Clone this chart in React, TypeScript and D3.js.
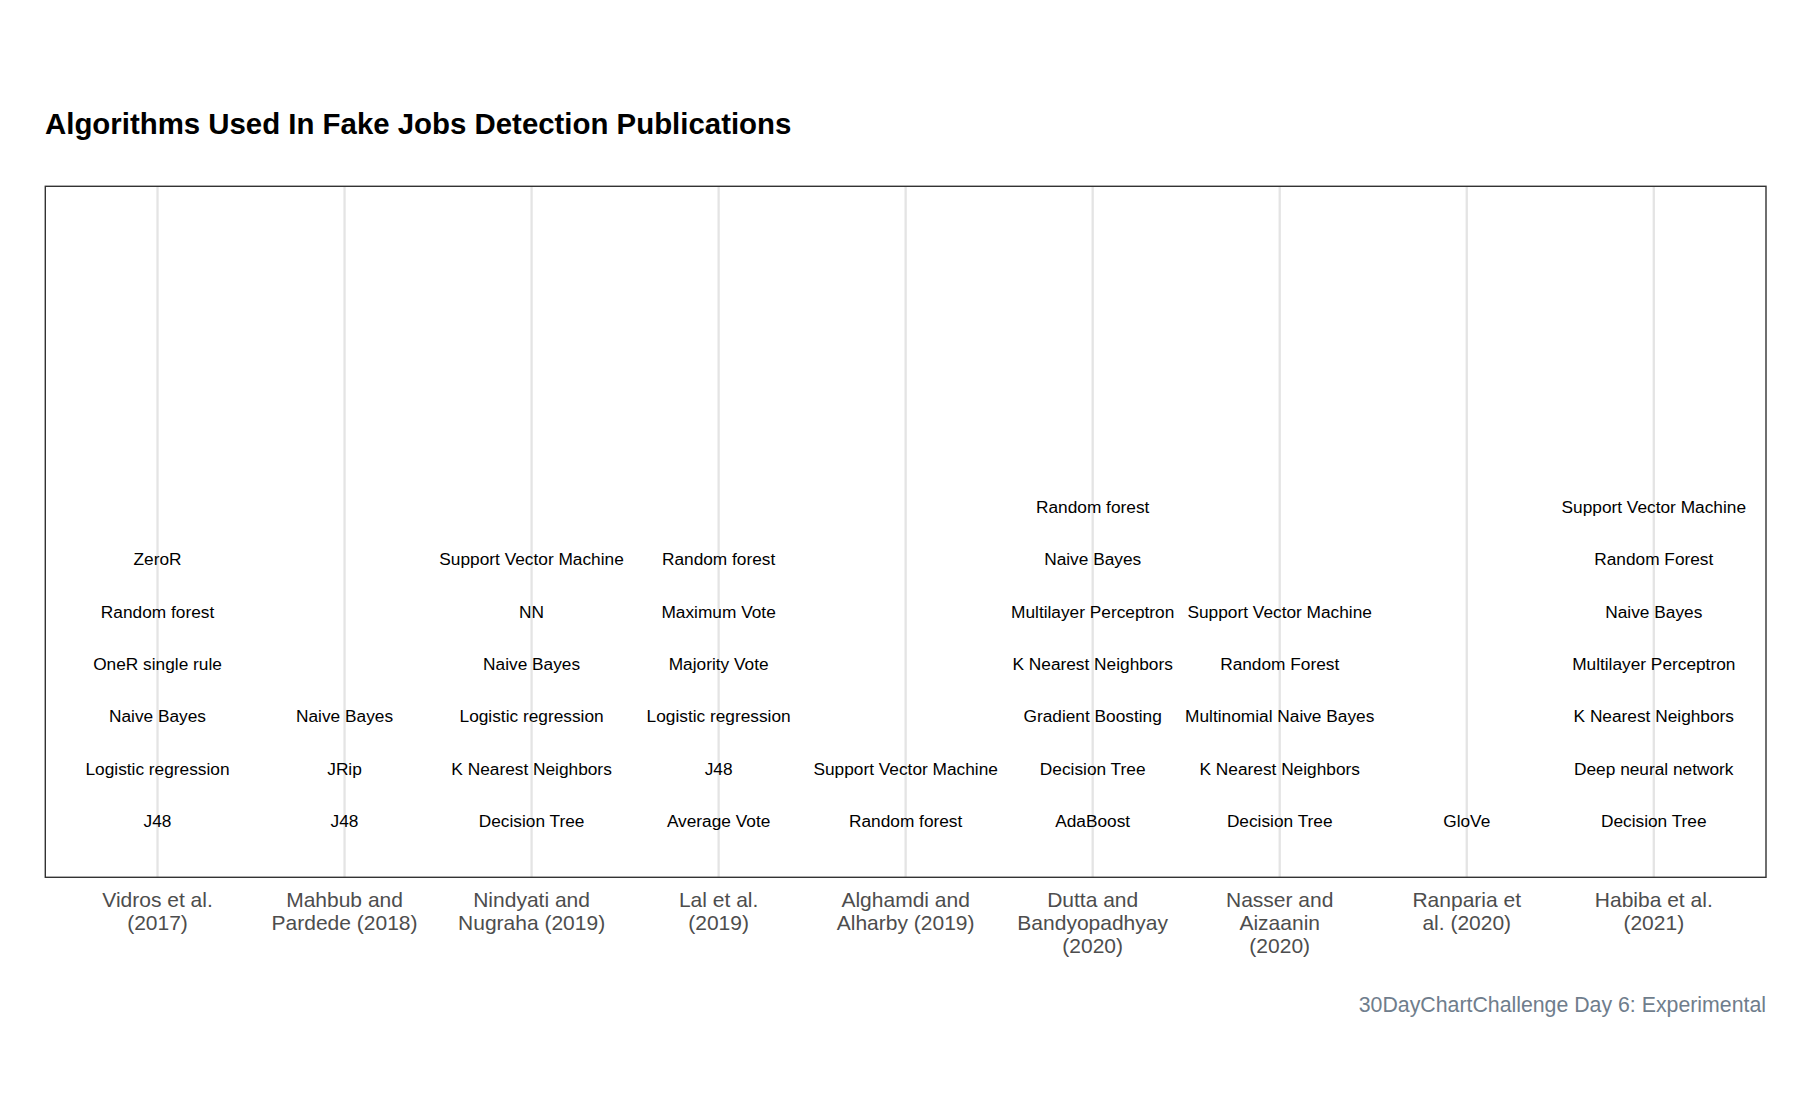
import React from 'react';
import * as d3 from 'd3';

const publications = [
    'Vidros et al. (2017)',
    'Mahbub and Pardede (2018)',
    'Nindyati and Nugraha (2019)',
    'Lal et al. (2019)',
    'Alghamdi and Alharby (2019)',
    'Dutta and Bandyopadhyay (2020)',
    'Nasser and Aizaanin (2020)',
    'Ranparia et al. (2020)',
    'Habiba et al. (2021)',
];

// wrapped axis labels, as drawn under the panel
const pubLabels = [
    ['Vidros et al.', '(2017)'],
    ['Mahbub and', 'Pardede (2018)'],
    ['Nindyati and', 'Nugraha (2019)'],
    ['Lal et al.', '(2019)'],
    ['Alghamdi and', 'Alharby (2019)'],
    ['Dutta and', 'Bandyopadhyay', '(2020)'],
    ['Nasser and', 'Aizaanin', '(2020)'],
    ['Ranparia et', 'al. (2020)'],
    ['Habiba et al.', '(2021)'],
];

// algorithms per publication, bottom to top
const vidros = ['J48', 'Logistic regression', 'Naive Bayes', 'OneR single rule', 'Random forest', 'ZeroR'];
const mahbub = ['J48', 'JRip', 'Naive Bayes'];
const nindyati = ['Decision Tree', 'K Nearest Neighbors', 'Logistic regression', 'Naive Bayes', 'NN', 'Support Vector Machine'];
const lal = ['Average Vote', 'J48', 'Logistic regression', 'Majority Vote', 'Maximum Vote', 'Random forest'];
const alghamdi = ['Random forest', 'Support Vector Machine'];
const dutta = ['AdaBoost', 'Decision Tree', 'Gradient Boosting', 'K Nearest Neighbors', 'Multilayer Perceptron', 'Naive Bayes', 'Random forest'];
const nasser = ['Decision Tree', 'K Nearest Neighbors', 'Multinomial Naive Bayes', 'Random Forest', 'Support Vector Machine'];
const ranparia = ['GloVe'];
const habiba = ['Decision Tree', 'Deep neural network', 'K Nearest Neighbors', 'Multilayer Perceptron', 'Naive Bayes', 'Random Forest', 'Support Vector Machine'];

const algorithms = [vidros, mahbub, nindyati, lal, alghamdi, dutta, nasser, ranparia, habiba];

const yMax = 12;

const W = 1804;
const H = 1113;
const panel = { left: 45.3, top: 186.3, right: 1766, bottom: 877.3 };
const font = '"Liberation Sans", Arial, Helvetica, sans-serif';

export default function App() {
    const x = d3.scalePoint<string>()
        .domain(publications)
        .range([panel.left, panel.right])
        .padding(0.6);

    const pad = yMax * 0.05;
    const y = d3.scaleLinear()
        .domain([-pad, yMax + pad])
        .range([panel.bottom, panel.top]);

    const points = publications.flatMap((p, i) =>
        algorithms[i].map((name, j) => ({ pub: p, name, row: j + 0.5 }))
    );

    return (
        <div style={{ position: 'absolute', left: 0, top: 0 }}>
            <svg width={W} height={H} style={{ display: 'block', background: '#fff' }} fontFamily={font}>
                <text x={45} y={134} fontSize={29.4} fontWeight="bold" fill="#000">
                    Algorithms Used In Fake Jobs Detection Publications
                </text>

                {publications.map(p => (
                    <line key={p} x1={x(p)} x2={x(p)} y1={panel.top} y2={panel.bottom}
                        stroke="#e4e4e4" strokeWidth={2.3} />
                ))}

                {points.map((d, i) => (
                    <text key={i} x={x(d.pub)} y={y(d.row)} dy="0.42em" textAnchor="middle"
                        fontSize={17.3} fill="#000">{d.name}</text>
                ))}

                <rect x={panel.left} y={panel.top} width={panel.right - panel.left}
                    height={panel.bottom - panel.top} fill="none" stroke="#333" strokeWidth={1.4} />

                {publications.map((p, i) => (
                    <text key={p} x={x(p)} y={907} textAnchor="middle" fontSize={21} fill="#4d4d4d">
                        {pubLabels[i].map((line, k) => (
                            <tspan key={k} x={x(p)} dy={k === 0 ? 0 : 23}>{line}</tspan>
                        ))}
                    </text>
                ))}

                <text x={panel.right} y={1012} textAnchor="end" fontSize={21.3} fill="#6f7d8c">
                    30DayChartChallenge Day 6: Experimental
                </text>
            </svg>
        </div>
    );
}
